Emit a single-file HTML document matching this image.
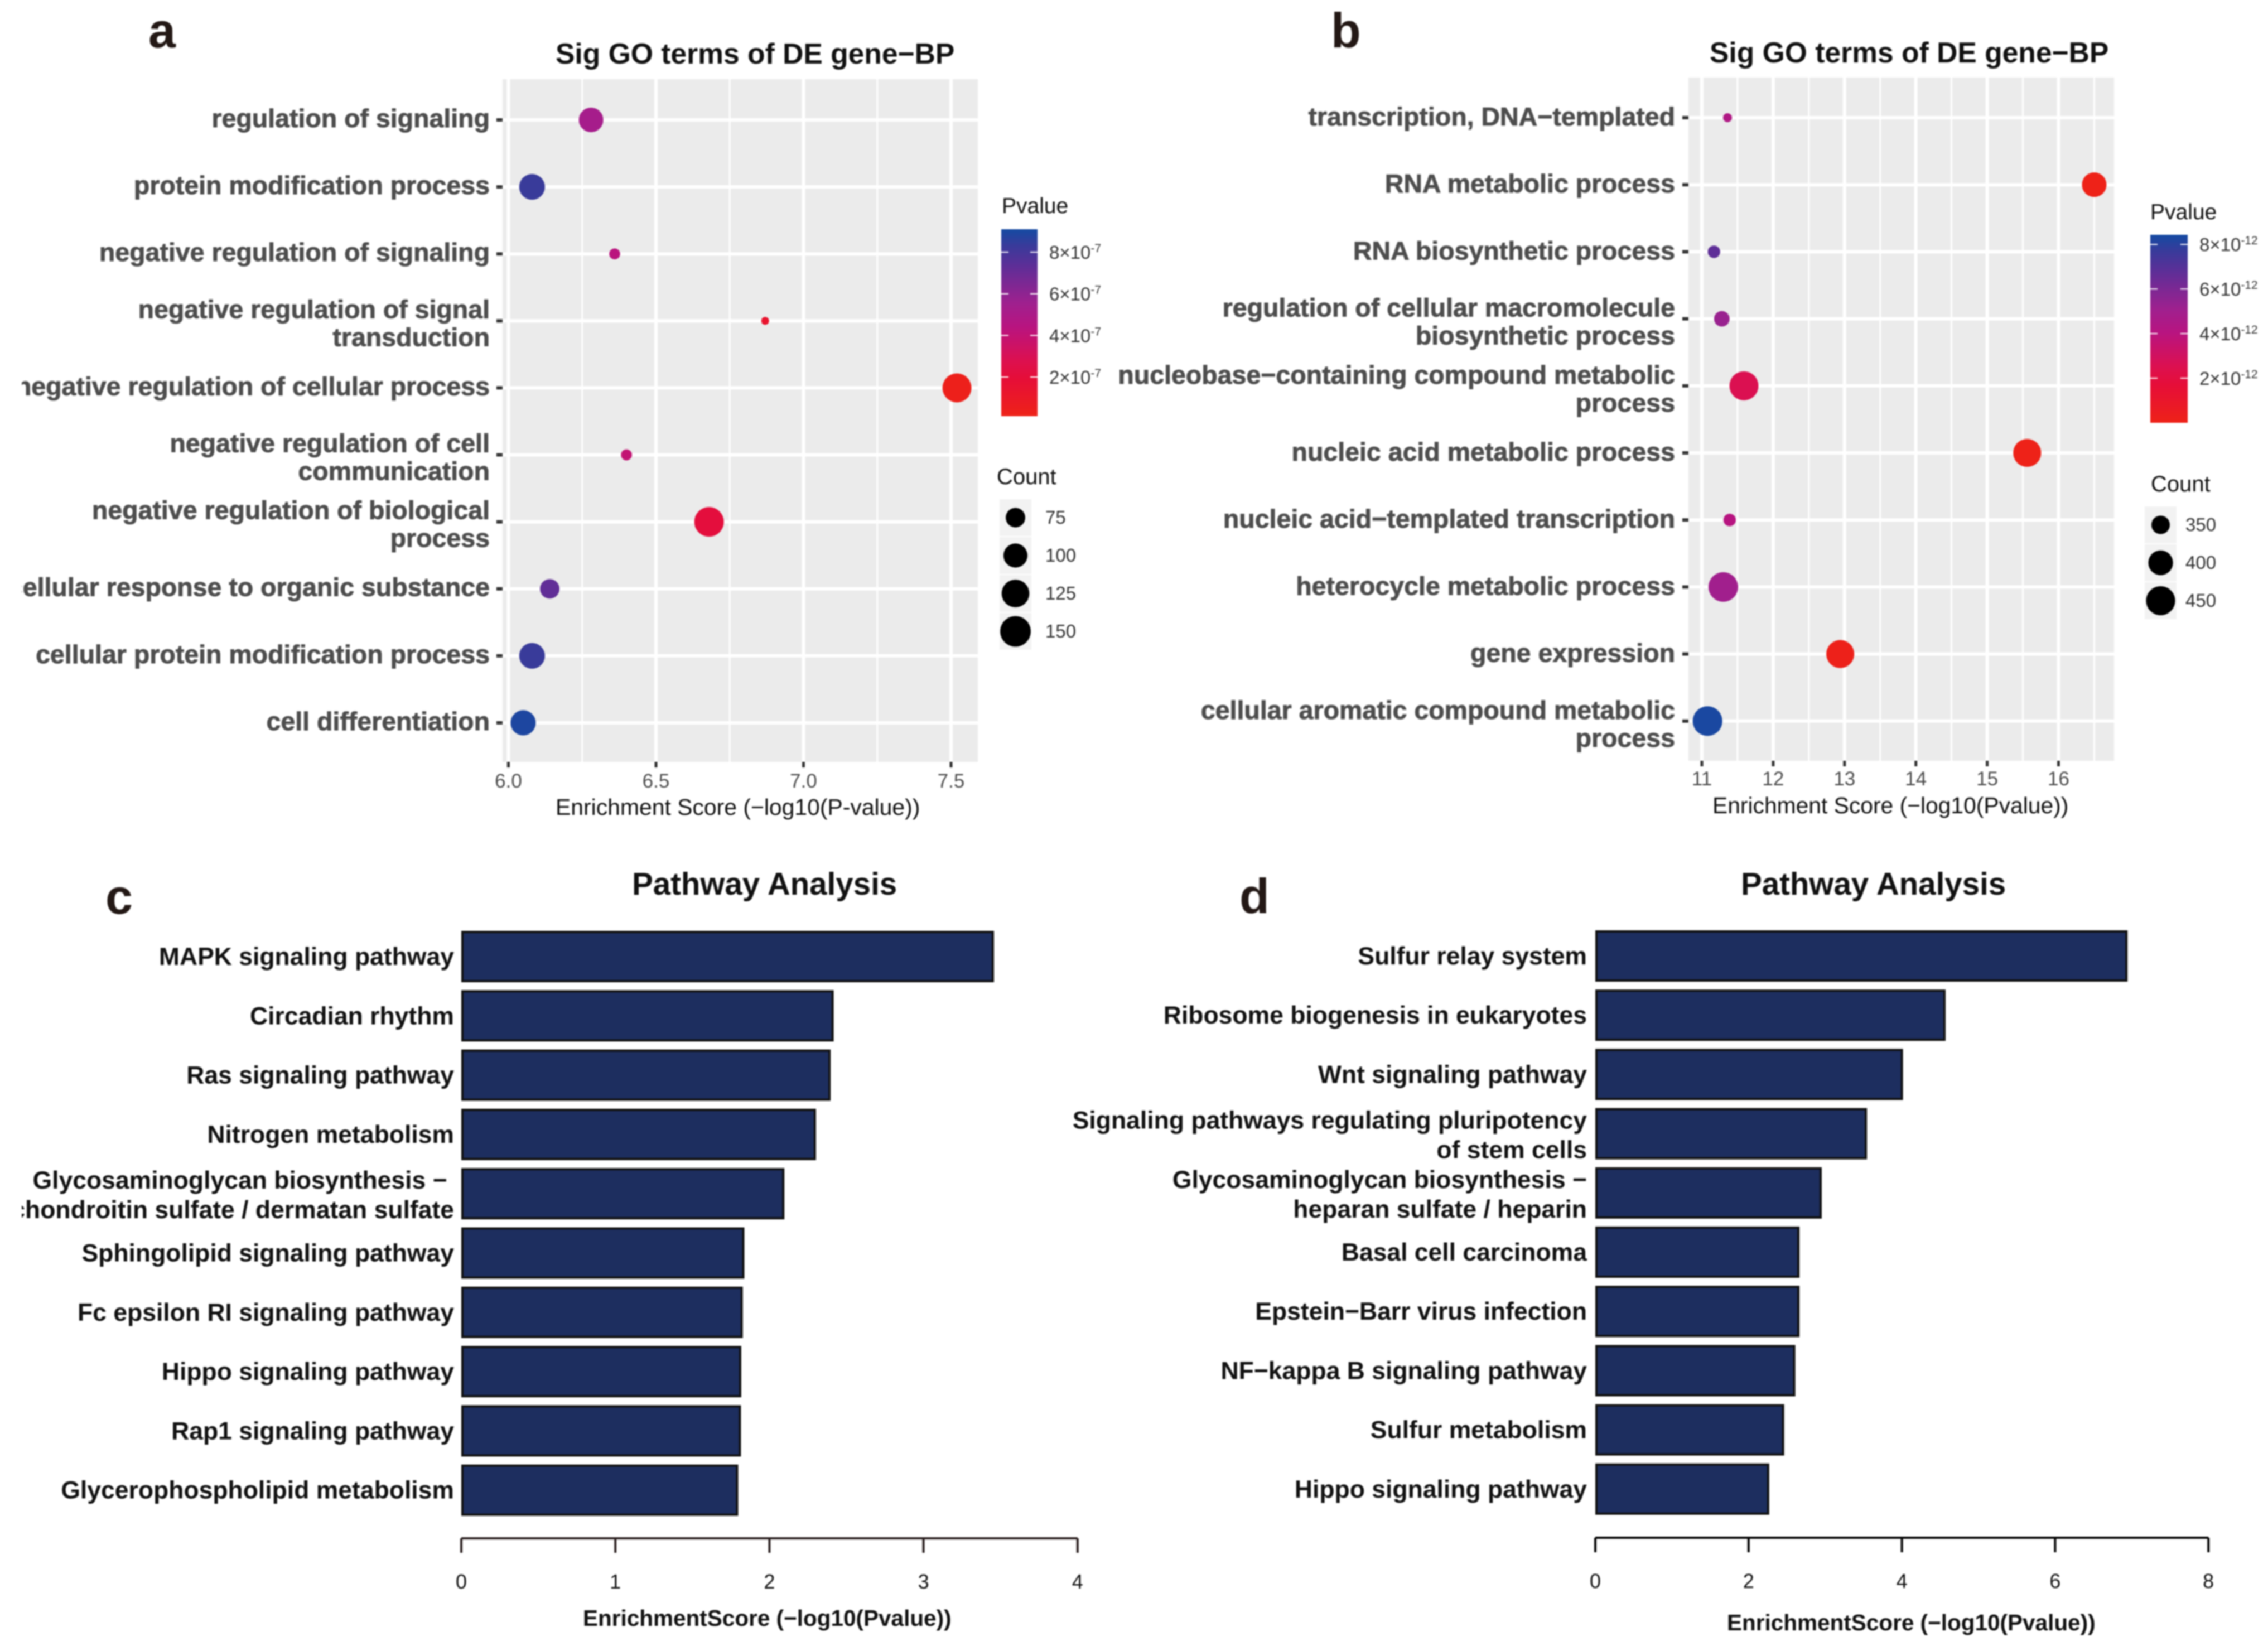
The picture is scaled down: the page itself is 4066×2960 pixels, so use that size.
<!DOCTYPE html>
<html lang="en">
<head>
<meta charset="utf-8">
<title>GO enrichment and pathway analysis</title>
<style>
html,body{margin:0;padding:0;background:#fff;}
svg{display:block;font-family:"Liberation Sans",Arial,sans-serif;filter:blur(1.2px);}
</style>
</head>
<body>
<svg id="figure" xmlns="http://www.w3.org/2000/svg" width="4066" height="2960" viewBox="0 0 4066 2960">
<defs>
<clipPath id="clip-left"><rect x="39" y="0" width="4027" height="2960"/></clipPath>
</defs>
<rect x="0" y="0" width="4066" height="2960" fill="#ffffff"/>
<text x="266" y="85" font-size="88" font-weight="700" fill="#231815">a</text>
<text x="2386" y="85" font-size="88" font-weight="700" fill="#231815">b</text>
<text x="189" y="1638" font-size="88" font-weight="700" fill="#231815">c</text>
<text x="2222" y="1637" font-size="88" font-weight="700" fill="#231815">d</text>
<text x="996" y="114" font-size="51.6" font-weight="700" fill="#111">Sig GO terms of DE gene−BP</text>
<text x="3065" y="112" font-size="51.6" font-weight="700" fill="#111">Sig GO terms of DE gene−BP</text>
<text x="1133" y="1604" font-size="56.5" font-weight="700" fill="#111">Pathway Analysis</text>
<text x="3121" y="1604" font-size="56.5" font-weight="700" fill="#111">Pathway Analysis</text>
<text x="996" y="1461" font-size="40.9" fill="#111">Enrichment Score (−log10(P-value))</text>
<text x="3070" y="1458" font-size="40.8" fill="#111">Enrichment Score (−log10(Pvalue))</text>
<text x="1045" y="2915" font-size="40.5" font-weight="700" fill="#111">EnrichmentScore (−log10(Pvalue))</text>
<text x="3096" y="2923" font-size="40.5" font-weight="700" fill="#111">EnrichmentScore (−log10(Pvalue))</text>
<text x="1796" y="382" font-size="39" fill="#111">Pvalue</text>
<text x="1787" y="868" font-size="40" fill="#111">Count</text>
<text x="3855" y="393" font-size="39" fill="#111">Pvalue</text>
<text x="3856" y="881" font-size="40" fill="#111">Count</text>
</svg>
<script>
// Panel a data
const aTerms = ["regulation of signaling","protein modification process","negative regulation of signaling","negative regulation of signal|transduction","negative regulation of cellular process","negative regulation of cell|communication","negative regulation of biological|process","cellular response to organic substance","cellular protein modification process","cell differentiation"];
const aScores = [6.28,6.08,6.36,6.87,7.52,6.40,6.68,6.14,6.08,6.05];
const aCounts = [103,111,50,48,136,50,141,75,111,107];
const aXTicks = ["6.0","6.5","7.0","7.5"];
const aXMinor = [6.25,6.75,7.25];
const aPTicks = [8,6,4,2];
const aCountTicks = [75,100,125,150];

// Panel b data
const bTerms = ["transcription, DNA−templated","RNA metabolic process","RNA biosynthetic process","regulation of cellular macromolecule|biosynthetic process","nucleobase−containing compound metabolic|process","nucleic acid metabolic process","nucleic acid−templated transcription","heterocycle metabolic process","gene expression","cellular aromatic compound metabolic|process"];
const bScores = [11.36,16.5,11.17,11.28,11.59,15.56,11.39,11.30,12.94,11.08];
const bCounts = [321,399,325,335,449,436,325,457,436,457];
const bXTicks = ["11","12","13","14","15","16"];
const bXMinor = [11.5,12.5,13.5,14.5,15.5,16.5];
const bPTicks = [8,6,4,2];
const bCountTicks = [350,400,450];

// Panel c data
const cTerms = ["MAPK signaling pathway","Circadian rhythm","Ras signaling pathway","Nitrogen metabolism","Glycosaminoglycan biosynthesis −\u00A0|chondroitin sulfate / dermatan sulfate","Sphingolipid signaling pathway","Fc epsilon RI signaling pathway","Hippo signaling pathway","Rap1 signaling pathway","Glycerophospholipid metabolism"];
const cValues = [3.45,2.41,2.39,2.295,2.09,1.83,1.82,1.81,1.808,1.79];
const cXTicks = [0,1,2,3,4];

// Panel d data
const dTerms = ["Sulfur relay system","Ribosome biogenesis in eukaryotes","Wnt signaling pathway","Signaling pathways regulating pluripotency|of stem cells","Glycosaminoglycan biosynthesis −|heparan sulfate / heparin","Basal cell carcinoma","Epstein−Barr virus infection","NF−kappa B signaling pathway","Sulfur metabolism","Hippo signaling pathway"];
const dValues = [6.93,4.556,4.0,3.53,2.94,2.65,2.65,2.595,2.45,2.255];
const dXTicks = [0,2,4,6,8];

const NS = "http://www.w3.org/2000/svg";
const svg = document.getElementById("figure");
const colorStops = [[0,"#ee2218"],[0.2,"#e60e38"],[0.3,"#dc1050"],[0.48,"#b81480"],[0.6,"#a0208e"],[0.8,"#5f2e97"],[0.91,"#3a3a9a"],[1,"#144aa2"]];

function mk(tag, attrs, parent) {
  const n = document.createElementNS(NS, tag);
  for (const k in attrs) n.setAttribute(k, attrs[k]);
  (parent || svg).appendChild(n);
  return n;
}
function hexToRgb(h) { return [1,3,5].map(function(i){ return parseInt(h.substr(i,2),16); }); }
function colorAt(t) {
  t = Math.max(0, Math.min(1, t));
  for (let i = 1; i < colorStops.length; i++) {
    if (t <= colorStops[i][0]) {
      const a = colorStops[i-1], b = colorStops[i];
      const f = (t - a[0]) / (b[0] - a[0]);
      const ca = hexToRgb(a[1]), cb = hexToRgb(b[1]);
      return "rgb(" + ca.map(function(v,j){ return Math.round(v + (cb[j]-v)*f); }).join(",") + ")";
    }
  }
  return colorStops[colorStops.length-1][1];
}

function drawDotPanel(o) {
  const x = function(v){ return o.x0 + (v - o.xBase) * o.xUnit; };
  const y = function(i){ return o.rowTop + i * o.rowStep; };
  const size = function(c){ return o.dMin + (o.dMax - o.dMin) * Math.sqrt(Math.max(0,(c - o.cMin) / (o.cMax - o.cMin))); };

  const panel = mk("rect", {x:o.left, y:o.top, width:o.right-o.left, height:o.bottom-o.top, fill:"#ebebeb"});
  
  

  o.minor.forEach(function(v){
    if (x(v) > o.right) return;
    const g = mk("line", {x1:x(v), x2:x(v), y1:o.top, y2:o.bottom, stroke:"#fff", "stroke-width":3});
    
    
  });
  o.xTicks.forEach(function(t){
    const v = parseFloat(t);
    const g = mk("line", {x1:x(v), x2:x(v), y1:o.top, y2:o.bottom, stroke:"#fff", "stroke-width":6});
    
    
    const tk = mk("line", {x1:x(v), x2:x(v), y1:o.bottom, y2:o.bottom+10, stroke:"#333", "stroke-width":5});
    
    
    const lb = mk("text", {x:x(v), y:o.tickBase, "font-size":35, fill:"#4d4d4d", "text-anchor":"middle"});
    lb.textContent = t;
    
    
  });
  o.terms.forEach(function(term, i){
    const g = mk("line", {x1:o.left, x2:o.right, y1:y(i), y2:y(i), stroke:"#fff", "stroke-width":6});
    
    
    const tk = mk("line", {x1:o.left-11, x2:o.left, y1:y(i), y2:y(i), stroke:"#333", "stroke-width":6});
    
    
    const lines = term.split("|");
    lines.forEach(function(line, j){
      const base = (lines.length === 1 ? 13 : (j === 0 ? -5 : 45)) + o.labelDy;
      const attrs = {x:o.labelX, y:y(i)+base, "font-size":46.5, "font-weight":700, fill:"#4d4d4d", stroke:"#4d4d4d", "stroke-width":0.8, "text-anchor":"end"};
      if (o.clip) attrs["clip-path"] = "url(#clip-left)";
      const lb = mk("text", attrs);
      lb.textContent = line;
      
      
    });
  });
  o.terms.forEach(function(term, i){
    const p = Math.pow(10, -o.scores[i]);
    const t = (p - o.pMin) / (o.pMax - o.pMin);
    const dot = mk("circle", {cx:x(o.scores[i]), cy:y(i), r:size(o.counts[i])/2, fill:colorAt(t)});
    
    
  });

  // colour bar
  const gradId = "bar-grad-" + o.id;
  let defs = svg.querySelector("defs");
  const grad = mk("linearGradient", {id:gradId, x1:0, y1:1, x2:0, y2:0}, defs);
  colorStops.forEach(function(s){ mk("stop", {offset:s[0], "stop-color":s[1]}, grad); });
  const bar = mk("rect", {x:o.barX, y:o.barTop, width:o.barW, height:o.barBottom-o.barTop, fill:"url(#"+gradId+")"});
  
  
  o.pTicks.forEach(function(m){
    const py = o.barBottom - (m*o.pUnit - o.pMin) / (o.pMax - o.pMin) * (o.barBottom - o.barTop);
    const t1 = mk("line", {x1:o.barX, x2:o.barX+13, y1:py, y2:py, stroke:"#fff", "stroke-width":2});
    
    
    const t2 = mk("line", {x1:o.barX+o.barW-13, x2:o.barX+o.barW, y1:py, y2:py, stroke:"#fff", "stroke-width":2});
    
    
    const lb = mk("text", {x:o.barX+o.barW+21, y:py+12, "font-size":33, fill:"#333"});
    
    
    lb.textContent = m + "×10";
    const sup = mk("tspan", {dy:-12, "font-size":21}, lb);
    sup.textContent = o.pExp;
  });

  // size legend
  o.countTicks.forEach(function(c, i){
    const cy = o.keyTop + i * o.keyStep;
    const key = mk("rect", {x:o.keyX, y:cy-o.keyStep/2+1, width:57, height:o.keyStep-2, fill:"#f2f2f2"});
    
    
    const dot = mk("circle", {cx:o.keyX+28.5, cy:cy, r:size(c)/2, fill:"#000"});
    
    
    const lb = mk("text", {x:o.keyLabelX, y:cy+11, "font-size":33, fill:"#333"});
    lb.textContent = c;
    
    
  });
}

function drawBarPanel(o) {
  const x = function(v){ return o.x0 + v * o.xUnit; };
  const y = function(i){ return o.rowTop + i * o.rowStep; };
  o.values.forEach(function(v, i){
    const b = mk("rect", {x:x(0)+2, y:y(i)-44, width:x(v)-x(0)-2, height:88, fill:"#1d2e5f", stroke:"#111", "stroke-width":4});
    
    
    const lines = o.terms[i].split("|");
    lines.forEach(function(line, j){
      const base = lines.length === 1 ? 15 : (j === 0 ? -9 : 44);
      const attrs = {x:o.labelX, y:y(i)+base, "font-size":44.5, "font-weight":700, fill:"#111", "text-anchor":"end"};
      if (o.clip) attrs["clip-path"] = "url(#clip-left)";
      const lb = mk("text", attrs);
      lb.textContent = line;
      
      
    });
  });
  const axis = mk("line", {x1:x(o.ticks[0]), x2:x(o.ticks[o.ticks.length-1]), y1:o.axisY, y2:o.axisY, stroke:o.axisColor, "stroke-width":4});
  
  
  o.ticks.forEach(function(t){
    const tk = mk("line", {x1:x(t), x2:x(t), y1:o.axisY, y2:o.axisY+26, stroke:o.axisColor, "stroke-width":4});
    
    
    const lb = mk("text", {x:x(t), y:o.axisY+90, "font-size":36, fill:"#111", "text-anchor":"middle"});
    lb.textContent = t;
    
    
  });
}

drawDotPanel({id:"a", terms:aTerms, scores:aScores, counts:aCounts, xTicks:aXTicks, minor:aXMinor, pTicks:aPTicks, countTicks:aCountTicks,
  left:901, right:1753, top:142, bottom:1366, x0:911.5, xBase:6, xUnit:529, rowTop:215, rowStep:120.1, labelX:878, labelDy:0, tickBase:1412, clip:true,
  dMin:14, dMax:56, cMin:48, cMax:156, pMin:0.125e-7, pMax:9.1e-7, pUnit:1e-7, pExp:"-7",
  barX:1795, barW:65, barTop:411, barBottom:746, keyX:1792, keyTop:928, keyStep:68, keyLabelX:1874});
drawDotPanel({id:"b", terms:bTerms, scores:bScores, counts:bCounts, xTicks:bXTicks, minor:bXMinor, pTicks:bPTicks, countTicks:bCountTicks,
  left:3027, right:3790, top:139, bottom:1364, x0:3051, xBase:11, xUnit:127.9, rowTop:211, rowStep:120.2, labelX:3003, labelDy:1, tickBase:1408, clip:false,
  dMin:16, dMax:54, cMin:321, cMax:464, pMin:0, pMax:8.43e-12, pUnit:1e-12, pExp:"-12",
  barX:3855, barW:67, barTop:421, barBottom:758, keyX:3845, keyTop:941, keyStep:68, keyLabelX:3918});
drawBarPanel({id:"c", terms:cTerms, values:cValues, ticks:cXTicks, x0:827, xUnit:276.2, rowTop:1715, rowStep:106.3, labelX:814, axisY:2758, axisColor:"#2a1f1f", clip:true});
drawBarPanel({id:"d", terms:dTerms, values:dValues, ticks:dXTicks, x0:2860, xUnit:137.4, rowTop:1714, rowStep:106.2, labelX:2845, axisY:2757, axisColor:"#000", clip:false});
</script>
</body>
</html>
